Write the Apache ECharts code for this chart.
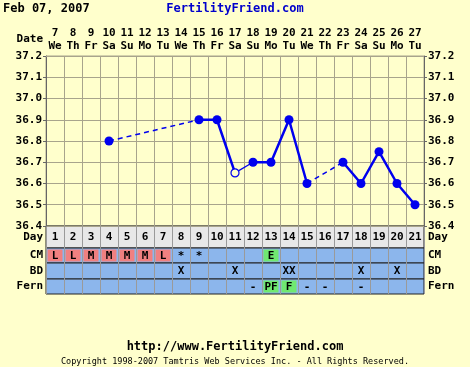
<!DOCTYPE html>
<html><head><meta charset="utf-8">
<script src="https://cdn.jsdelivr.net/npm/echarts@6/dist/echarts.min.js"></script>
<style>html,body{margin:0;padding:0;background:#FFFFCC;}#c{width:470px;height:367px;}</style>
</head><body><div id="c"></div>
<script>
// ---- data ----
const dates = ['7','8','9','10','11','12','13','14','15','16','17','18','19','20','21','22','23','24','25','26','27'];
const weekdays = ['We','Th','Fr','Sa','Su','Mo','Tu','We','Th','Fr','Sa','Su','Mo','Tu','We','Th','Fr','Sa','Su','Mo','Tu'];
const cycleDays = ['1','2','3','4','5','6','7','8','9','10','11','12','13','14','15','16','17','18','19','20','21'];
const temps = [null,null,null,36.8,null,null,null,null,36.9,36.9,36.65,36.7,36.7,36.9,36.6,null,36.7,36.6,36.75,36.6,36.5];
const openDays = ['11'];
const cm   = ['L','L','M','M','M','M','L','*','*','','','','E','','','','','','','',''];
const bd   = ['','','','','','','','X','','','X','','','XX','','','','X','','X',''];
const fern = ['','','','','','','','','','','','-','PF','F','-','-','','-','','',''];
const yMin = 36.4, yMax = 37.2, yStep = 0.1;
const headerDate = 'Feb 07, 2007';
const site = 'FertilityFriend.com';
const url = 'http://www.FertilityFriend.com';
const copyright = 'Copyright 1998-2007 Tamtris Web Services Inc. - All Rights Reserved.';

// ---- styles ----
const FONT = 'DejaVu Sans Mono';
const BLUE = '#0000EE';
const GRID = '#a8a48c';
const BG = '#FFFFCC';
const codeColor = {cm:{L:'#F08080',M:'#F08080',E:'#70E870'}, fern:{PF:'#70E870',F:'#70E870'}};
const L = 46, W = 378;

const rows = [
  {name:'Day', key:'day', data:cycleDays, top:226, h:22, bg:'#E8E8E8'},
  {name:'CM', key:'cm', data:cm, top:248, h:15, bg:'#8CB6EC'},
  {name:'BD', key:'bd', data:bd, top:263, h:16, bg:'#8CB6EC'},
  {name:'Fern', key:'fern', data:fern, top:279, h:15, bg:'#8CB6EC'}
];

const grids = [{left:L, top:56, width:W, height:170, show:true, backgroundColor:BG, borderColor:GRID, borderWidth:1}];
const xAxes = [{
  type:'category', gridIndex:0, position:'top', data:dates, boundaryGap:true,
  axisLine:{show:true, lineStyle:{color:GRID}}, axisTick:{show:false},
  splitLine:{show:true, interval:0, lineStyle:{color:GRID, width:1}},
  axisLabel:{interval:0, margin:3, formatter:(v,i)=>'{n|'+dates[i]+'}\n{w|'+weekdays[i]+'}',
    rich:{n:{fontFamily:FONT, fontWeight:'bold', fontSize:11, lineHeight:13, color:'#000'},
          w:{fontFamily:FONT, fontWeight:'bold', fontSize:11, lineHeight:13, color:'#000'}}}
}];
const yLbl = {fontFamily:FONT, fontWeight:'bold', fontSize:11, color:'#000', formatter:v=>Number(v).toFixed(1)};
const yAxes = [
  {type:'value', gridIndex:0, position:'left', min:yMin, max:yMax, interval:yStep,
   axisLine:{show:true, lineStyle:{color:'#666'}}, axisTick:{show:true, length:3, lineStyle:{color:'#666'}},
   splitLine:{show:true, lineStyle:{color:GRID}}, axisLabel:Object.assign({margin:4}, yLbl)},
  {type:'value', gridIndex:0, position:'right', min:yMin, max:yMax, interval:yStep,
   axisLine:{show:true, lineStyle:{color:'#666'}}, axisTick:{show:true, length:3, lineStyle:{color:'#666'}},
   splitLine:{show:false}, axisLabel:Object.assign({margin:4}, yLbl)}
];
const series = [];

// temperature line: thick solid parts, thin segment after an open (questionable) point
const isOpen = i => openDays.includes(cycleDays[i]);
const pt = (t,i) => (t===null) ? null : (isOpen(i) ? {value:t, symbol:'circle', symbolSize:8,
      itemStyle:{color:BG, borderColor:BLUE, borderWidth:1.2}} : t);
let start = 0;
const cuts = [];
temps.forEach((t,i)=>{ if (t!==null && isOpen(i) && i+1<temps.length && temps[i+1]!==null) cuts.push(i); });
const bounds = [0].concat(cuts.map(c=>c+1)).concat([temps.length]);
for (let b=0; b<bounds.length-1; b++) {
  const a = bounds[b], e = bounds[b+1];
  series.push({type:'line', xAxisIndex:0, yAxisIndex:0, z:5,
    data: temps.map((t,i)=> (i>=a && i<e) ? pt(t,i) : null),
    connectNulls:false, symbol:'circle', symbolSize:9,
    itemStyle:{color:BLUE}, lineStyle:{color:BLUE, width:2.5}});
}
cuts.forEach(c=>{
  series.push({type:'line', xAxisIndex:0, yAxisIndex:0, z:4,
    data: temps.map((t,i)=> (i===c||i===c+1) ? t : null),
    connectNulls:false, symbol:'none', lineStyle:{color:BLUE, width:1.3}});
});
// dashed connections across gaps
let prev = -1;
temps.forEach((t,i)=>{
  if (t===null) return;
  if (prev>=0 && i-prev>1) {
    const d = temps.map((v,j)=> (j===prev||j===i) ? v : null);
    series.push({type:'line', xAxisIndex:0, yAxisIndex:0, z:4, data:d, connectNulls:true,
      symbol:'none', lineStyle:{color:BLUE, width:1.5, type:[5,4]}});
  }
  prev = i;
});

// table rows
rows.forEach((r, k)=>{
  const gi = k+1;
  grids.push({left:L, top:r.top, width:W, height:r.h, show:true, backgroundColor:r.bg, borderColor:'#222', borderWidth:1});
  xAxes.push({type:'category', gridIndex:gi, data:cycleDays, boundaryGap:true,
    axisLine:{show:false}, axisTick:{show:false}, axisLabel:{show:false},
    splitLine:{show:true, interval:0, lineStyle:{color:'#9a9a9a'}}});
  const lbl = {fontFamily:FONT, fontWeight:'bold', fontSize:11, color:'#000'};
  yAxes.push({type:'category', gridIndex:gi, position:'left', data:[r.name],
    axisLine:{show:false}, axisTick:{show:false}, axisLabel:Object.assign({margin:3}, lbl)});
  yAxes.push({type:'category', gridIndex:gi, position:'right', data:[r.name],
    axisLine:{show:false}, axisTick:{show:false}, axisLabel:Object.assign({margin:4}, lbl)});
  const colors = codeColor[r.key] || {};
  series.push({
    type:'custom', xAxisIndex:gi, yAxisIndex:2+gi*2-1, z:3,
    data: r.data.map((t,i)=>[i,0]),
    renderItem:(params, api)=>{
      const i = params.dataIndex;
      const txt = r.data[i];
      const c = api.coord([api.value(0), 0]);
      const s = api.size([1,1]);
      const ch = [];
      const col = colors[txt];
      if (col) ch.push({type:'rect', shape:{x:c[0]-s[0]/2+1.5, y:c[1]-s[1]/2+1.5, width:s[0]-3, height:s[1]-3}, style:{fill:col}});
      if (txt) ch.push({type:'text', style:{text:String(txt), x:c[0], y:c[1]+0.5, align:'center', verticalAlign:'middle',
        font:'bold 11px "'+FONT+'"', fill:'#000'}});
      return {type:'group', children:ch};
    }
  });
});

const chart = echarts.init(document.getElementById('c'), null, {renderer:'canvas'});
chart.setOption({
  backgroundColor:BG,
  animation:false,
  grid:grids, xAxis:xAxes, yAxis:yAxes, series:series,
  graphic:[
    {type:'text', x:3, y:9, style:{text:headerDate, font:'bold 12px "'+FONT+'"', fill:'#000', verticalAlign:'middle'}},
    {type:'text', x:235, y:9, style:{text:site, font:'bold 12px "'+FONT+'"', fill:'#0000CC', align:'center', verticalAlign:'middle'}},
    {type:'text', x:43, y:39, style:{text:'Date', font:'bold 11px "'+FONT+'"', fill:'#000', align:'right', verticalAlign:'middle'}},
    {type:'text', x:235, y:347, style:{text:url, font:'bold 12px "'+FONT+'"', fill:'#000', align:'center', verticalAlign:'middle'}},
    {type:'text', x:235, y:362, style:{text:copyright, font:'8.5px "'+FONT+'"', fill:'#000', align:'center', verticalAlign:'middle'}}
  ]
});
</script></body></html>
